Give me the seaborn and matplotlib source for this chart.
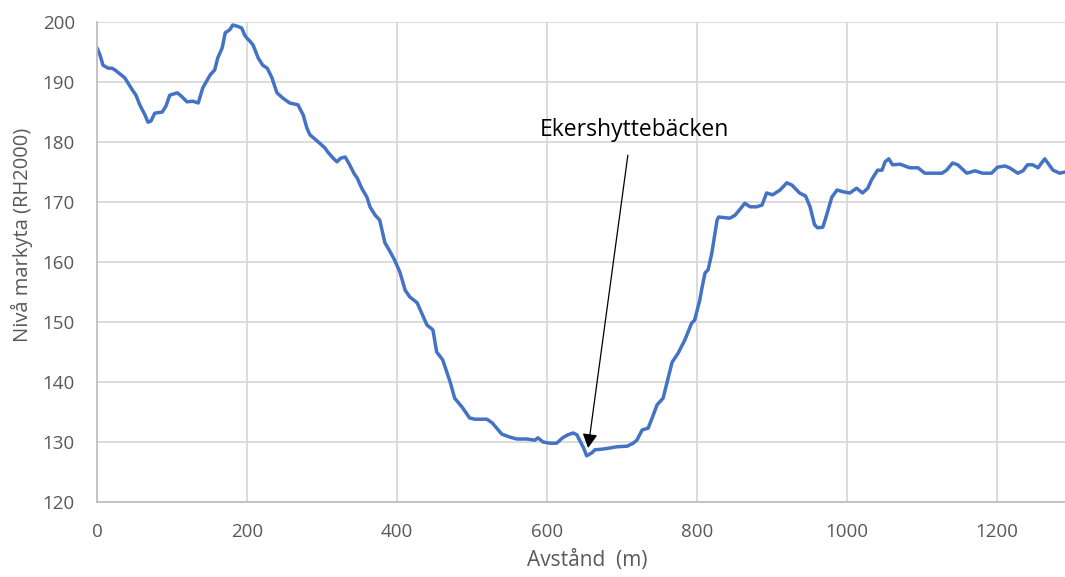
import matplotlib
matplotlib.use("Agg")
import matplotlib.pyplot as plt
import seaborn as sns
import pandas as pd

distance_m = [0, 4, 8, 15, 20, 24, 31, 37, 47, 52, 57, 64, 68, 72, 77, 87, 92, 97, 107, 112,
              120, 128, 135, 141, 151, 157, 161, 167, 171, 177, 181, 187, 193, 197, 200, 204,
              208, 215, 221, 227, 233, 240, 248, 257, 268, 275, 280, 284, 297, 304, 308, 315,
              320, 325, 331, 337, 343, 347, 353, 360, 364, 371, 377, 384, 391, 397,
              404, 411, 417, 427, 433, 440, 448, 453, 461, 471, 477, 487, 497, 504, 520, 527,
              540, 551, 560, 573, 584, 588, 595, 604, 613, 621, 628, 635, 640, 647, 649, 653,
              660, 664, 673, 684, 693, 707, 715, 720, 727, 735, 741, 747, 755, 760, 767, 775,
              784, 793, 797, 804, 807, 811, 815, 820, 827, 829, 844, 851, 857, 864, 871, 880,
              887, 893, 901, 911, 920, 927, 937, 945, 951, 957, 961, 968, 973, 980, 987, 995,
              1004, 1013, 1021, 1028, 1033, 1041, 1047, 1051, 1056, 1061, 1071, 1084, 1095,
              1104, 1115, 1127, 1133, 1141, 1148, 1160, 1171, 1181, 1193, 1201, 1211, 1217,
              1228, 1235, 1241, 1248, 1255, 1264, 1268, 1275, 1284, 1291]
level_m = [195.7, 194.5, 192.8, 192.3, 192.3, 192.0, 191.3, 190.7, 188.7, 187.8, 186.2, 184.5,
           183.3, 183.5, 184.8, 185.0, 186.0, 187.8, 188.2, 187.7, 186.7, 186.8, 186.5, 189.0,
           191.2, 192.0, 194.0, 195.7, 198.2, 198.7, 199.5, 199.3, 199.0, 197.8, 197.3, 196.8,
           196.2, 194.0, 192.8, 192.3, 190.8, 188.2, 187.3, 186.5, 186.2, 184.5, 182.3, 181.2,
           179.8, 179.0, 178.3, 177.3, 176.7, 177.3, 177.5, 176.2, 174.7, 174.0, 172.3, 170.8,
           169.2, 167.8, 167.0, 163.2, 161.7, 160.3,
           158.3, 155.3, 154.2, 153.2, 151.5, 149.5, 148.7, 145.0, 143.7, 140.0, 137.3, 135.8,
           134.0, 133.8, 133.8, 133.2, 131.3, 130.8, 130.5, 130.5, 130.3, 130.7, 130.0, 129.8,
           129.8, 130.7, 131.2, 131.5, 131.2, 129.5, 129.0, 127.7, 128.2, 128.7, 128.8, 129.0,
           129.2, 129.3, 129.8, 130.3, 132.0, 132.3, 134.2, 136.2, 137.3, 139.8, 143.3, 144.8,
           147.0, 149.8, 150.3, 153.7, 155.8, 158.2, 158.7, 161.5, 167.0, 167.5, 167.3, 167.8,
           168.7, 169.8, 169.2, 169.2, 169.5, 171.5, 171.2, 172.0, 173.2, 172.8, 171.5, 171.0,
           169.2, 166.2, 165.7, 165.8, 167.8, 170.8, 172.0, 171.7, 171.5, 172.3, 171.5, 172.3,
           173.7, 175.3, 175.3, 176.7, 177.2, 176.2, 176.3, 175.7, 175.7, 174.8, 174.8, 174.8,
           175.3, 176.5, 176.2, 174.8, 175.2, 174.8, 174.8, 175.8, 176.0, 175.7, 174.8, 175.2,
           176.2, 176.2, 175.7, 177.2, 176.5, 175.3, 174.8, 175.0]

x_ticks = [0, 200, 400, 600, 800, 1000, 1200]
y_ticks = [120, 130, 140, 150, 160, 170, 180, 190, 200]
annot_label = "Ekershyttebäcken"
annot_text_pos = (717, 181.0)
arrow_tip = (655, 129.0)
arrow_tail = (708, 177.8)

sns.set_style("whitegrid")
plt.rcParams['font.family'] = ['Open Sans', 'DejaVu Sans']

df = pd.DataFrame({"Avstånd": distance_m, "Nivå": level_m})

fig = plt.figure(figsize=(10.65, 5.77), dpi=100)
ax = fig.add_axes([97 / 1065, 1 - 502 / 577, 1 - 97 / 1065, 480 / 577])
sns.lineplot(data=df, x="Avstånd", y="Nivå", ax=ax, color="#4472C4", linewidth=2.5)

ax.set_xlim(0, 1291)
ax.set_ylim(120, 200)
ax.set_xticks(x_ticks)
ax.set_yticks(y_ticks)
ax.grid(True, color="#d9d9d9", linewidth=1.3)
for s in ["top", "right"]:
    ax.spines[s].set_visible(False)
for s in ["left", "bottom"]:
    ax.spines[s].set_color("#bfbfbf")
    ax.spines[s].set_linewidth(1.3)
ax.tick_params(axis="both", length=0, labelsize=13.5, labelcolor="#595959")
ax.tick_params(axis="y", pad=16)
ax.tick_params(axis="x", pad=15)
ax.set_xlabel("Avstånd  (m)", fontsize=15, color="#595959")
ax.set_ylabel("Nivå markyta (RH2000)", fontsize=14.5, color="#595959")
ax.xaxis.set_label_coords(0.506, -0.1)
ax.yaxis.set_label_coords(-0.066, 0.556)

ax.text(annot_text_pos[0], annot_text_pos[1], annot_label, ha="center", va="baseline",
        fontsize=16.5, color="black")
ax.annotate("", xy=arrow_tip, xytext=arrow_tail,
            arrowprops=dict(arrowstyle="-|>,head_length=0.85,head_width=0.45", color="black",
                            lw=0.9, shrinkA=0, shrinkB=0))

fig.savefig("out.png", dpi=100)
